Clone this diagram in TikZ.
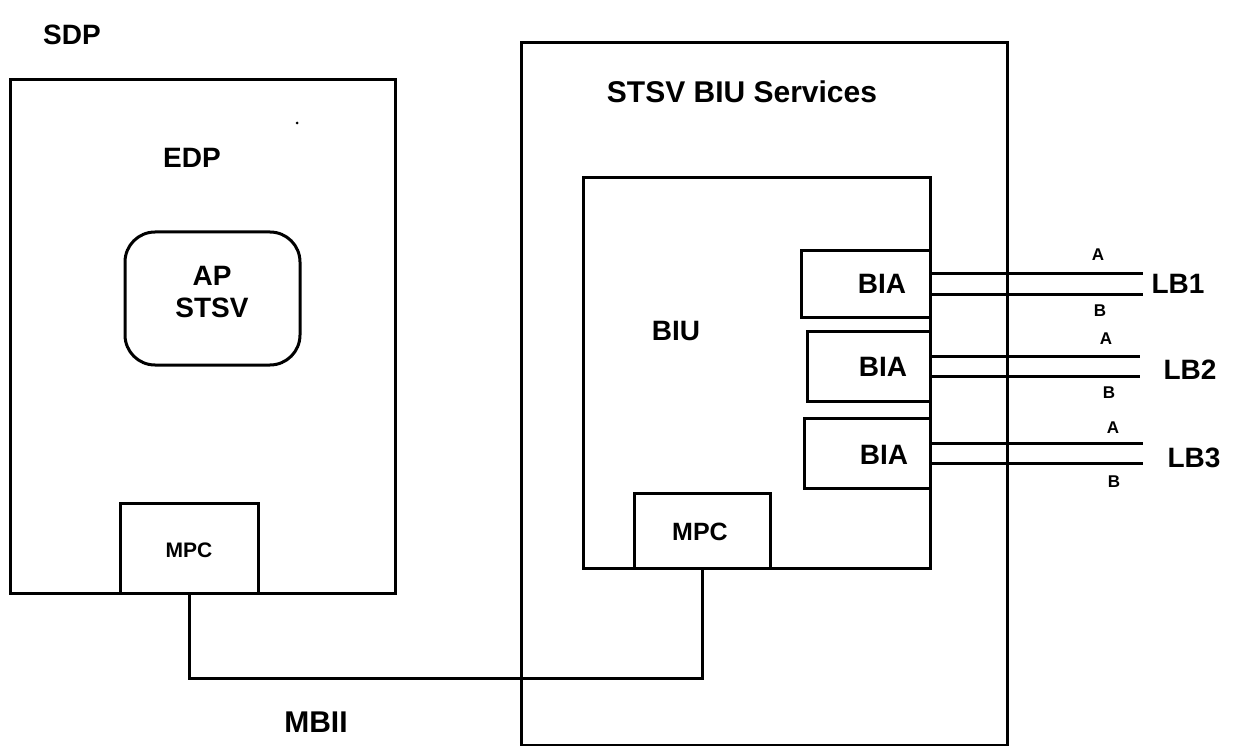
\documentclass[tikz,border=0pt]{standalone}
\usepackage{fontspec}
\setmainfont{Liberation Sans}
\begin{document}
\begin{tikzpicture}[x=1pt,y=-1pt,
  box/.style={draw, line width=3pt, inner sep=0pt, outer sep=0pt},
  wire/.style={line width=3pt},
  big/.style={font=\bfseries\fontsize{28}{32}\selectfont, inner sep=0pt},
  mid/.style={font=\bfseries\fontsize{25}{29}\selectfont, inner sep=0pt},
  small/.style={font=\bfseries\fontsize{21}{24}\selectfont, inner sep=0pt},
  ab/.style={font=\bfseries\fontsize{17}{20}\selectfont, inner sep=0pt}]
\useasboundingbox (0,0) rectangle (1240,746);
% boxes
\node[box, minimum width=385pt, minimum height=513pt] (edp) at (202.5,336.5) {};
\node[box, rounded corners=30pt, minimum width=175pt, minimum height=133pt] (ap) at (212.5,298.5) {};
\node[box, minimum width=138pt, minimum height=90pt] (mpcl) at (189,548) {};
\node[box, minimum width=486pt, minimum height=702pt] (svc) at (764,394) {};
\node[box, minimum width=347pt, minimum height=390pt] (biu) at (756.5,373) {};
\node[box, minimum width=129pt, minimum height=66pt] (bia1) at (865.5,284) {};
\node[box, minimum width=123pt, minimum height=70pt] (bia2) at (868.5,366) {};
\node[box, minimum width=126pt, minimum height=70pt] (bia3) at (867,453) {};
\node[box, minimum width=136pt, minimum height=75pt] (mpcr) at (702,530.5) {};
% texts
\node[big] (tsdp) at (72,35) {SDP};
\node[big] (tedp) at (192,158) {EDP};
\node[big, align=center] (tap) at (212,292) {AP\\STSV};
\node[small] (tmpcl) at (189,550) {MPC};
\node[big, font=\bfseries\fontsize{30}{34}\selectfont] (tsvc) at (742,92) {STSV BIU Services};
\node[big] (tbiu) at (676,331) {BIU};
\node[big] (tbia1) at (882,284) {BIA};
\node[big] (tbia2) at (883,367) {BIA};
\node[big] (tbia3) at (884,455) {BIA};
\node[mid] (tmpcr) at (700,532) {MPC};
\node[big, font=\bfseries\fontsize{30}{34}\selectfont] (tmbii) at (316,722) {MBII};
\fill (297,123) circle (1.5pt);
% LB lines
\coordinate (l1a) at (1143,274); \coordinate (l1b) at (1143,294);
\coordinate (l2a) at (1140,356); \coordinate (l2b) at (1140,376);
\coordinate (l3a) at (1143,443); \coordinate (l3b) at (1143,463);
\draw[wire] (bia1.east |- l1a) -- (l1a);
\draw[wire] (bia1.east |- l1b) -- (l1b);
\draw[wire] (bia2.east |- l2a) -- (l2a);
\draw[wire] (bia2.east |- l2b) -- (l2b);
\draw[wire] (bia3.east |- l3a) -- (l3a);
\draw[wire] (bia3.east |- l3b) -- (l3b);
\node[ab] (a1) at (1098,255) {A};
\node[ab] (b1) at (1100,311) {B};
\node[ab] (a2) at (1106,339) {A};
\node[ab] (b2) at (1109,393) {B};
\node[ab] (a3) at (1113,428) {A};
\node[ab] (b3) at (1114,482) {B};
\node[big] (lb1) at (1178,284) {LB1};
\node[big] (lb2) at (1190,370) {LB2};
\node[big] (lb3) at (1194,458) {LB3};
% MBII bus
\coordinate (bus) at (0,678);
\draw[wire] (mpcl.south) -- (mpcl.south |- bus) -- (mpcr.south |- bus) -- (mpcr.south);
\end{tikzpicture}
\end{document}
